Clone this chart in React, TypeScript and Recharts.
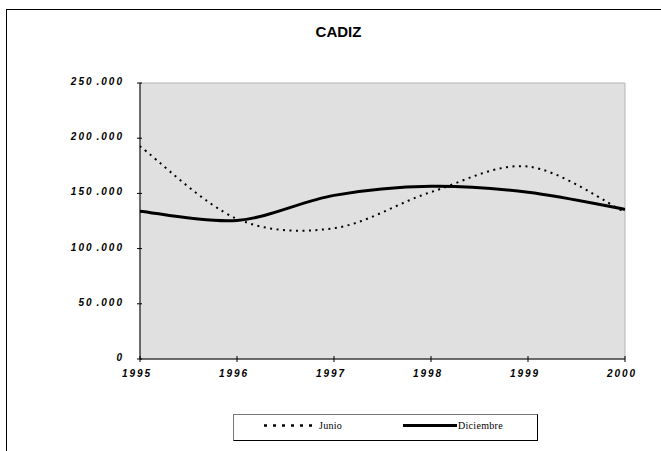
import React from 'react';
import { LineChart, Line, XAxis, YAxis, ReferenceArea, Legend } from 'recharts';

const title = 'CADIZ';
const years = [1995, 1996, 1997, 1998, 1999, 2000];
const junio = [192700, 127000, 118500, 151200, 174300, 133000];
const diciembre = [133900, 125500, 148200, 156400, 151000, 135500];
const yTicks = [0, 50000, 100000, 150000, 200000, 250000];
const seriesNames = ['Junio', 'Diciembre'];

const data = years.map((y, i) => ({ year: y, junio: junio[i], diciembre: diciembre[i] }));

// Excel-like smoothed line (Catmull-Rom / cardinal with tension 0)
const excelSmooth = (context: any) => {
  let pts: number[][] = [];
  return {
    areaStart() {},
    areaEnd() {},
    lineStart() {
      pts = [];
    },
    point(x: number, y: number) {
      pts.push([+x, +y]);
    },
    lineEnd() {
      const n = pts.length;
      if (!n) return;
      context.moveTo(pts[0][0], pts[0][1]);
      for (let i = 0; i < n - 1; i++) {
        const p0 = pts[Math.max(i - 1, 0)];
        const p1 = pts[i];
        const p2 = pts[i + 1];
        const p3 = pts[Math.min(i + 2, n - 1)];
        context.bezierCurveTo(
          p1[0] + (p2[0] - p0[0]) / 6,
          p1[1] + (p2[1] - p0[1]) / 6,
          p2[0] - (p3[0] - p1[0]) / 6,
          p2[1] - (p3[1] - p1[1]) / 6,
          p2[0],
          p2[1]
        );
      }
    },
  };
};

const tickFont = {
  fontFamily: '"Liberation Sans", Arial, sans-serif',
  fontSize: 10,
  fontWeight: 700,
  fontStyle: 'italic' as const,
  letterSpacing: 2,
  fill: '#000',
};

const X_MARGIN = 3;
const Y_MARGIN = 16;

const XTick = (props: any) => {
  const { x, y, payload } = props;
  const ay = y - X_MARGIN;
  return (
    <g>
      <line x1={x} x2={x} y1={ay - 3} y2={ay + 3} stroke="#000" strokeWidth={1} />
      <text x={x - 3} y={y + 15} textAnchor="middle" style={tickFont}>
        {String(payload.value)}
      </text>
    </g>
  );
};

const YTick = (props: any) => {
  const { x, y, payload } = props;
  const ax = x + Y_MARGIN;
  const v = payload.value as number;
  const thousands = Math.round(v / 1000);
  return (
    <g>
      <line x1={ax - 3} x2={ax + 2} y1={y} y2={y} stroke="#000" strokeWidth={1} />
      <text x={x} y={y + 2} textAnchor="end" style={tickFont}>
        {v === 0 ? (
          '0'
        ) : (
          <>
            <tspan>{String(thousands)}</tspan>
            <tspan dx={3}>.000</tspan>
          </>
        )}
      </text>
    </g>
  );
};

const LegendBox = () => (
  <div
    style={{
      width: 305,
      height: 27,
      boxSizing: 'border-box',
      border: '1px solid #000',
      borderTopColor: '#777',
      borderLeftColor: '#777',
      background: '#fff',
    }}
  >
    <svg width={303} height={25} style={{ display: 'block' }}>
      <line x1={30} x2={84} y1={10.5} y2={10.5} stroke="#000" strokeWidth={2.5} strokeDasharray="3 6" />
      <text x={85} y={14} style={{ fontFamily: '"Liberation Serif", serif', fontSize: 10, letterSpacing: 0.3 }} fill="#000">
        {seriesNames[0]}
      </text>
      <line x1={169} x2={223} y1={10.5} y2={10.5} stroke="#000" strokeWidth={3} />
      <text x={224} y={14} style={{ fontFamily: '"Liberation Serif", serif', fontSize: 10, letterSpacing: 0.3 }} fill="#000">
        {seriesNames[1]}
      </text>
    </svg>
  </div>
);

export default function App() {
  return (
    <div
      style={{
        position: 'absolute',
        left: 0,
        top: 0,
        width: 661,
        height: 451,
        overflow: 'hidden',
        background: '#fff',
      }}
    >
      <div
        style={{
          position: 'absolute',
          left: 6,
          top: 9,
          width: 720,
          height: 520,
          border: '1px solid #000',
          boxSizing: 'border-box',
        }}
      />
      <div
        style={{
          position: 'absolute',
          left: 0,
          width: 677,
          top: 22,
          textAlign: 'center',
          fontFamily: '"Liberation Sans", Arial, sans-serif',
          fontWeight: 700,
          fontSize: 15,
          lineHeight: '20px',
        }}
      >
        {title}
      </div>
      <div style={{ position: 'absolute', left: 0, top: 0 }}>
        <LineChart
          width={661}
          height={451}
          data={data}
          margin={{ top: 83, right: 36, bottom: 62, left: 80 }}
        >
          <ReferenceArea
            x1={1995}
            x2={2000}
            y1={0}
            y2={250000}
            fill="#e0e0e0"
            fillOpacity={1}
            stroke="#b4b4b4"
            strokeWidth={1}
            ifOverflow="visible"
          />
          <XAxis
            dataKey="year"
            type="number"
            domain={[1995, 2000]}
            ticks={years}
            allowDecimals={false}
            height={30}
            tickSize={0}
            tickMargin={X_MARGIN}
            tickLine={false}
            axisLine={{ stroke: '#000', strokeWidth: 1 }}
            tick={<XTick />}
            interval={0}
          />
          <YAxis
            type="number"
            domain={[0, 250000]}
            ticks={yTicks}
            width={60}
            tickSize={0}
            tickMargin={Y_MARGIN}
            tickLine={false}
            axisLine={{ stroke: '#000', strokeWidth: 1 }}
            tick={<YTick />}
            interval={0}
          />
          <Line
            dataKey="junio"
            name={seriesNames[0]}
            type={excelSmooth as any}
            stroke="#000"
            strokeWidth={2}
            strokeDasharray="2 4.5"
            dot={false}
            activeDot={false}
            isAnimationActive={false}
          />
          <Line
            dataKey="diciembre"
            name={seriesNames[1]}
            type={excelSmooth as any}
            stroke="#000"
            strokeWidth={3}
            dot={false}
            activeDot={false}
            isAnimationActive={false}
          />
          <Legend
            layout="horizontal"
            verticalAlign="middle"
            align="center"
            content={<LegendBox />}
            wrapperStyle={{ position: 'absolute', left: 233, top: 414, width: 305, height: 27 }}
          />
        </LineChart>
      </div>
    </div>
  );
}
